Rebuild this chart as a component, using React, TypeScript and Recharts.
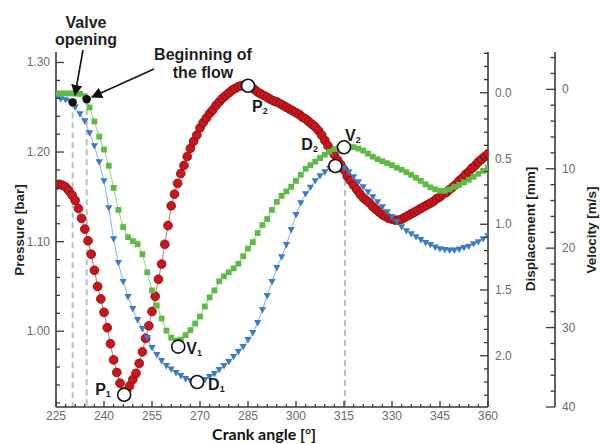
import { ComposedChart, Line, XAxis, YAxis, ReferenceDot, ReferenceLine } from "recharts"

// red pressure samples: one per degree from 225
const PRESSURE_START = 225
const PRESSURE = [
  1.163, 1.164, 1.163, 1.161, 1.157, 1.152, 1.146, 1.137, 1.126, 1.114,
  1.101, 1.086, 1.068, 1.050, 1.036, 1.021, 1.004, 0.986, 0.968, 0.954,
  0.942, 0.932, 0.933, 0.939, 0.946, 0.953, 0.964, 0.977, 0.992, 1.006,
  1.022, 1.039, 1.058, 1.075, 1.097, 1.118, 1.140, 1.153, 1.165, 1.176,
  1.185, 1.195, 1.204, 1.212, 1.219, 1.227, 1.233, 1.238, 1.243, 1.247,
  1.252, 1.256, 1.260, 1.263, 1.266, 1.269, 1.271, 1.273, 1.274, 1.275,
  1.275, 1.273, 1.270, 1.267, 1.265, 1.263, 1.261, 1.259, 1.257, 1.256,
  1.254, 1.252, 1.250, 1.248, 1.246, 1.244, 1.242, 1.239, 1.237, 1.234,
  1.231, 1.228, 1.224, 1.219, 1.213, 1.207, 1.202, 1.197, 1.191, 1.186,
  1.180, 1.173, 1.168, 1.163, 1.158, 1.153, 1.149, 1.146, 1.143, 1.139,
  1.136, 1.133, 1.130, 1.128, 1.126, 1.125, 1.124, 1.124, 1.125, 1.127,
  1.129, 1.131, 1.133, 1.135, 1.137, 1.139, 1.141, 1.143, 1.145, 1.148,
  1.150, 1.153, 1.155, 1.158, 1.161, 1.164, 1.168, 1.171, 1.175, 1.178,
  1.182, 1.185, 1.189, 1.192, 1.195, 1.198,
]

// blue (displacement, mm) and green (velocity, m/s) samples every 1.5 deg from 225
const MARKER_START = 225
const MARKER_STEP = 1.5
const DISPLACEMENT = [
  0.040, 0.048, 0.055, 0.067, 0.109, 0.162, 0.215, 0.306, 0.405, 0.527,
  0.671, 0.876, 1.112, 1.294, 1.438, 1.552, 1.644, 1.727, 1.796, 1.864,
  1.940, 1.993, 2.039, 2.077, 2.103, 2.130, 2.153, 2.176, 2.191, 2.198,
  2.195, 2.183, 2.160, 2.138, 2.107, 2.077, 2.047, 2.008, 1.970, 1.932,
  1.879, 1.826, 1.750, 1.651, 1.545, 1.438, 1.332, 1.249, 1.157, 1.043,
  0.929, 0.838, 0.770, 0.720, 0.671, 0.633, 0.603, 0.576, 0.557, 0.557,
  0.572, 0.603, 0.641, 0.679, 0.717, 0.755, 0.793, 0.831, 0.869, 0.907,
  0.945, 0.983, 1.021, 1.051, 1.074, 1.097, 1.119, 1.142, 1.157, 1.176,
  1.188, 1.195, 1.199, 1.199, 1.191, 1.180, 1.169, 1.150, 1.135, 1.112,
  1.089,
]
const VELOCITY = [
  0.51, 0.51, 0.51, 0.51, 0.54, 0.57, 0.89, 2.28, 4.05, 5.95,
  7.59, 9.62, 12.41, 15.19, 17.34, 18.61, 19.11, 19.49, 20.76, 23.04,
  25.32, 27.22, 28.86, 30.38, 31.27, 31.65, 31.52, 30.95, 30.32, 29.49,
  28.61, 27.34, 26.20, 25.32, 24.18, 23.54, 23.04, 22.53, 21.96, 21.01,
  20.06, 19.24, 18.10, 17.09, 16.33, 15.19, 14.18, 13.42, 12.85, 12.28,
  11.52, 10.76, 10.00, 9.56, 9.11, 8.65, 8.23, 7.85, 7.53, 7.34,
  7.28, 7.22, 7.28, 7.47, 7.72, 8.10, 8.48, 8.80, 9.05, 9.30,
  9.56, 9.87, 10.13, 10.44, 10.76, 11.14, 11.52, 11.96, 12.34, 12.59,
  12.78, 12.78, 12.59, 12.28, 12.03, 11.71, 11.39, 11.01, 10.63, 10.25,
  9.87,
]

const ANGLE_TICKS = [225, 240, 255, 270, 285, 300, 315, 330, 345, 360]
const PRESSURE_TICKS = [1.0, 1.1, 1.2, 1.3]
const DISPLACEMENT_TICKS = [0, 0.5, 1.0, 1.5, 2.0]
const VELOCITY_TICKS = [0, 10, 20, 30, 40]

// open circles with labels (P = pressure, V = velocity, D = displacement)
const MARKS = [
  { name: "P", sub: "1", angle: 246.3, value: 0.929, axis: "p", dx: -29, dy: 0 },
  { name: "P", sub: "2", angle: 285, value: 1.274, axis: "p", dx: 4, dy: 26 },
  { name: "V", sub: "1", angle: 263.2, value: 32.4, axis: "v", dx: 8, dy: 7 },
  { name: "D", sub: "1", angle: 269.1, value: 2.2, axis: "d", dx: 11, dy: 8 },
  { name: "V", sub: "2", angle: 315, value: 7.3, axis: "v", dx: 1, dy: -6 },
  { name: "D", sub: "2", angle: 312.3, value: 0.557, axis: "d", dx: -34, dy: -16 },
]
const VALVE_OPENING = { angle: 230.2, pressure: 1.2555 }
const FLOW_START = { angle: 234.6, pressure: 1.259 }
const V2_DROP = { angle: 315.3, pressure: 1.18 }

const P_DOMAIN: [number, number] = [0.9154, 1.3117]

const steps = (from: number, to: number, step: number) => {
  const out: number[] = []
  const n = Math.round((to - from) / step)
  for (let i = 0; i <= n; i++) out.push(Math.round((from + i * step) * 1000) / 1000)
  return out
}

const pressureData = PRESSURE.map((p, i) => ({ angle: PRESSURE_START + i, p }))
const displacementData = DISPLACEMENT.map((d, i) => ({ angle: MARKER_START + i * MARKER_STEP, d }))
const velocityData = VELOCITY.map((v, i) => ({ angle: MARKER_START + i * MARKER_STEP, v }))

const TICK_FONT = "'Liberation Sans', Arial, sans-serif"
const AXIS = { stroke: "#3a3a3a", strokeWidth: 1.6 }

function makeTick(side: "left" | "right" | "bottom", majors: number[], fmt: (v: number) => string, big: number) {
  return (props: any) => {
    const { x, y, payload, index } = props
    const v = payload.value
    const isMajor = majors.some(m => Math.abs(m - v) < 1e-6)
    const len = isMajor ? big : big / 2
    const line = side === "left"
      ? <line x1={x} y1={y} x2={x + len} y2={y} />
      : side === "right"
        ? <line x1={x} y1={y} x2={x - len} y2={y} />
        : <line x1={x} y1={y} x2={x} y2={y - len} />
    return (
      <g key={index} stroke="#3a3a3a" strokeWidth={1.3}>
        {line}
        {isMajor && (
          <text
            x={side === "left" ? x - 6 : side === "right" ? x + 7 : x}
            y={side === "bottom" ? y + 13 : y + 4}
            textAnchor={side === "left" ? "end" : side === "right" ? "start" : "middle"}
            fill="#6b6b6b" stroke="none" fontSize={12} fontFamily={TICK_FONT}
          >{fmt(v)}</text>
        )}
      </g>
    )
  }
}

const redDot = (props: any) => (
  <circle key={`r${props.index}`} cx={props.cx} cy={props.cy} r={4.4} fill="#c9161d" stroke="#7c0f12" strokeWidth={0.8} />
)
const blueDot = (props: any) => {
  const { cx, cy, index } = props
  return <polygon key={`b${index}`} points={`${cx - 3.6},${cy - 2.8} ${cx + 3.6},${cy - 2.8} ${cx},${cy + 3.6}`} fill="#3b7bc4" />
}
const greenDot = (props: any) => (
  <rect key={`g${props.index}`} x={props.cx - 2.9} y={props.cy - 2.9} width={5.8} height={5.8} fill="#5dbb45" />
)

function markShape(name: string, sub: string, dx: number, dy: number) {
  return (props: any) => (
    <g>
      <circle cx={props.cx} cy={props.cy} r={6.5} fill="#fff" stroke="#111" strokeWidth={1.6} />
      <text x={props.cx + dx} y={props.cy + dy} fontSize={16} fontWeight="bold" fill="#1a1a1a" fontFamily={TICK_FONT}>
        {name}<tspan fontSize={9} dy={2}>{sub}</tspan>
      </text>
    </g>
  )
}

const blackDot = (props: any) => <circle cx={props.cx} cy={props.cy} r={4.2} fill="#111" />

const NOTE_FONT = { fontFamily: TICK_FONT, fontWeight: "bold" as const, fontSize: 16, fill: "#1f1f1f" }
const TITLE_FONT = { fontFamily: TICK_FONT, fontWeight: "bold" as const, fontSize: 13.5, fill: "#1f1f1f" }

export default function App() {
  return (
    <div style={{ position: "absolute", left: 0, top: 0, width: 602, height: 444, background: "#fff" }}>
      <ComposedChart width={602} height={444} margin={{ top: 52, right: 0, bottom: 0, left: 0 }}>
        <XAxis
          dataKey="angle" type="number" domain={[225, 360]} allowDataOverflow
          ticks={steps(225, 360, 3)} interval={0} height={37}
          tickSize={0} tickMargin={0} tickLine={false} axisLine={AXIS}
          tick={makeTick("bottom", ANGLE_TICKS, v => String(v), 6)}
        />
        <YAxis
          yAxisId="p" type="number" domain={P_DOMAIN} allowDataOverflow width={56}
          ticks={steps(0.92, 1.3, 0.02)} interval={0}
          tickSize={0} tickMargin={0} tickLine={false} axisLine={AXIS}
          tick={makeTick("left", PRESSURE_TICKS, v => v.toFixed(2), 8)}
        />
        <YAxis
          yAxisId="d" orientation="right" type="number" domain={[-0.31, 2.39]} allowDataOverflow reversed width={67}
          ticks={steps(-0.3, 2.3, 0.1)} interval={0}
          tickSize={0} tickMargin={0} tickLine={false} axisLine={AXIS}
          tick={makeTick("right", DISPLACEMENT_TICKS, v => v.toFixed(1), 8)}
        />
        <YAxis
          yAxisId="v" orientation="right" type="number" domain={[-4.7, 40]} allowDataOverflow reversed width={47}
          ticks={steps(-4, 40, 2)} interval={0}
          tickSize={0} tickMargin={0} tickLine={false} axisLine={AXIS}
          tick={makeTick("right", VELOCITY_TICKS, v => String(v), 9)}
        />

        <ReferenceLine yAxisId="p" segment={[{ x: VALVE_OPENING.angle, y: VALVE_OPENING.pressure }, { x: VALVE_OPENING.angle, y: P_DOMAIN[0] }]}
          stroke="#bdbdbd" strokeWidth={2} strokeDasharray="6 4" ifOverflow="visible" />
        <ReferenceLine yAxisId="p" segment={[{ x: FLOW_START.angle, y: FLOW_START.pressure }, { x: FLOW_START.angle, y: P_DOMAIN[0] }]}
          stroke="#bdbdbd" strokeWidth={2} strokeDasharray="6 4" ifOverflow="visible" />
        <ReferenceLine yAxisId="p" segment={[{ x: V2_DROP.angle, y: V2_DROP.pressure }, { x: V2_DROP.angle, y: P_DOMAIN[0] }]}
          stroke="#bdbdbd" strokeWidth={2} strokeDasharray="6 4" ifOverflow="visible" />

        <Line data={pressureData} yAxisId="p" dataKey="p" stroke="#e26b6b" strokeWidth={1}
          dot={redDot} activeDot={false} isAnimationActive={false} />
        <Line data={displacementData} yAxisId="d" dataKey="d" stroke="#82b2e2" strokeWidth={1}
          dot={blueDot} activeDot={false} isAnimationActive={false} />
        <Line data={velocityData} yAxisId="v" dataKey="v" stroke="#93d37f" strokeWidth={1}
          dot={greenDot} activeDot={false} isAnimationActive={false} />

        <ReferenceDot yAxisId="p" x={VALVE_OPENING.angle} y={VALVE_OPENING.pressure} shape={blackDot} ifOverflow="visible" />
        <ReferenceDot yAxisId="p" x={FLOW_START.angle} y={FLOW_START.pressure} shape={blackDot} ifOverflow="visible" />
        {MARKS.map(m => (
          <ReferenceDot key={m.name + m.sub} yAxisId={m.axis} x={m.angle} y={m.value}
            shape={markShape(m.name, m.sub, m.dx, m.dy)} ifOverflow="visible" />
        ))}
      </ComposedChart>

      <svg width={602} height={444} style={{ position: "absolute", left: 0, top: 0, pointerEvents: "none" }}>
        <defs>
          <marker id="head" viewBox="0 0 10 10" refX="9" refY="5" markerWidth="7" markerHeight="7" orient="auto">
            <path d="M0,0 L10,5 L0,10 z" fill="#111" />
          </marker>
        </defs>
        <text x={86} y={28} textAnchor="middle" {...NOTE_FONT}>Valve</text>
        <text x={86} y={45} textAnchor="middle" {...NOTE_FONT}>opening</text>
        <text x={203} y={60} textAnchor="middle" {...NOTE_FONT}>Beginning of</text>
        <text x={203} y={78} textAnchor="middle" {...NOTE_FONT}>the flow</text>
        <line x1={83} y1={50} x2={75} y2={95} stroke="#111" strokeWidth={1.6} markerEnd="url(#head)" />
        <line x1={154} y1={69} x2={92} y2={97} stroke="#111" strokeWidth={1.6} markerEnd="url(#head)" />

        <text transform="translate(24,230) rotate(-90)" textAnchor="middle" {...TITLE_FONT}>Pressure [bar]</text>
        <text transform="translate(535,229) rotate(-90)" textAnchor="middle" {...TITLE_FONT}>Displacement [mm]</text>
        <text transform="translate(596,230) rotate(-90)" textAnchor="middle" {...TITLE_FONT}>Velocity [m/s]</text>
        <text x={264} y={440} textAnchor="middle" fontFamily="Lato, 'Liberation Sans', sans-serif" fontWeight="bold" fontSize={16} fill="#111">
          Crank angle [<tspan fontSize={10} dy={-6}>o</tspan><tspan dy={6}>]</tspan>
        </text>
      </svg>
    </div>
  )
}
